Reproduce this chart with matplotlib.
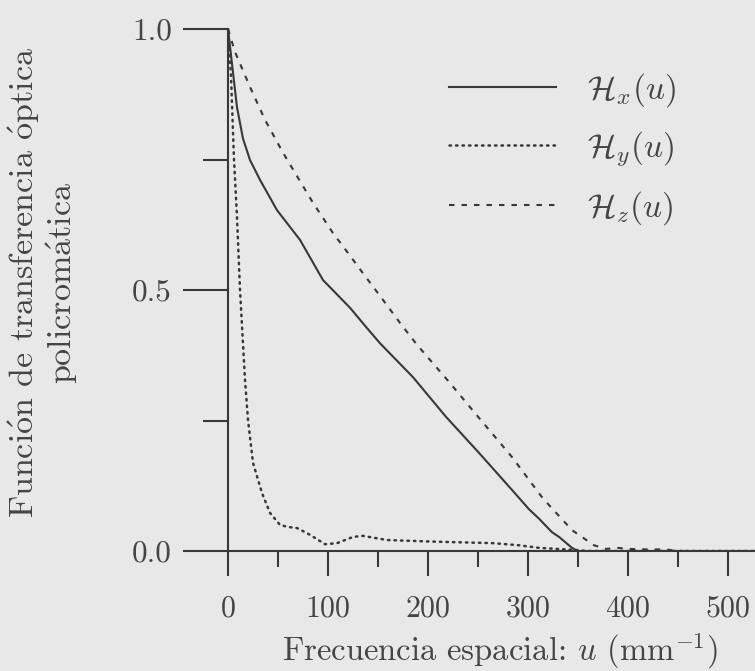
import matplotlib
matplotlib.use("Agg")
import matplotlib.pyplot as plt
from matplotlib.lines import Line2D

# Polychromatic optical transfer function along three directions
u_x = [0, 3, 9, 15, 22, 32, 49, 72, 95, 122, 139, 152, 185, 218, 251, 284,
       301, 311, 324, 331, 344, 350, 527]
h_x = [1.0, 0.95, 0.85, 0.79, 0.749, 0.711, 0.653, 0.596, 0.519, 0.466, 0.427,
       0.398, 0.333, 0.257, 0.188, 0.117, 0.08, 0.062, 0.036, 0.027, 0.006,
       0.0, 0.0]

u_y = [0, 3, 6, 9, 12, 17, 20, 25, 34, 42, 52, 60, 69, 82, 97, 109, 125, 135,
       159, 205, 265, 291, 311, 347, 360, 527]
h_y = [1.0, 0.91, 0.75, 0.64, 0.5, 0.328, 0.251, 0.169, 0.111, 0.073, 0.050,
       0.046, 0.044, 0.031, 0.013, 0.015, 0.027, 0.029, 0.021, 0.018, 0.015,
       0.011, 0.006, 0.002, 0.0, 0.0]

u_z = [0, 7, 22, 37, 55, 85, 105, 120, 135, 155, 172, 189, 221, 251, 284, 314,
       321, 344, 366, 378, 390, 400, 420, 438, 450, 527]
h_z = [1.0, 0.956, 0.889, 0.826, 0.763, 0.667, 0.609, 0.571, 0.532, 0.481,
       0.437, 0.395, 0.324, 0.255, 0.180, 0.103, 0.088, 0.040, 0.011, 0.004,
       0.006, 0.004, 0.003, 0.003, 0.0, 0.0]

x_major = [0, 100, 200, 300, 400, 500]
x_minor = [50, 150, 250, 350, 450]
y_major = [0.0, 0.5, 1.0]
y_minor = [0.25, 0.75]
y_major_labels = ["0.0", "0.5", "1.0"]

labels = [r"$\mathcal{H}_x(u)$", r"$\mathcal{H}_y(u)$", r"$\mathcal{H}_z(u)$"]

BG = "#e8e8e8"
INK = "#383838"
TXT = "#454545"
LW = 1.5

plt.rcParams["font.family"] = ["cmr10", "DejaVu Serif"]
plt.rcParams["mathtext.fontset"] = "cm"
plt.rcParams["axes.formatter.use_mathtext"] = True

fig = plt.figure(figsize=(7.55, 6.71), dpi=100, facecolor=BG)
ax = fig.add_axes([228 / 755, 120 / 671, 1 - 228 / 755, (551 - 29) / 671])
ax.set_facecolor(BG)

dotted = (0, (0.6, 2.0))
dashed = (0, (2.6, 3.4))

ax.plot(u_x, h_x, color=INK, lw=LW, ls="-", solid_capstyle="butt")
ax.plot(u_y, h_y, color=INK, lw=1.8, ls=dotted, dash_capstyle="round")
ax.plot(u_z, h_z, color=INK, lw=LW, ls=dashed)

ax.set_xlim(0, 527)
ax.set_ylim(0, 1.0)

for side in ("top", "right"):
    ax.spines[side].set_visible(False)
for side in ("left", "bottom"):
    ax.spines[side].set_color(INK)
    ax.spines[side].set_linewidth(LW)
ax.spines["left"].set_zorder(3)

ax.set_xticks(x_major)
ax.set_xticks(x_minor, minor=True)
ax.set_yticks(y_major)
ax.set_yticklabels(y_major_labels)
ax.set_yticks(y_minor, minor=True)

ax.tick_params(axis="x", which="major", direction="out", length=18, width=LW,
               color=INK, pad=14, labelsize=21.5, labelcolor=TXT)
ax.tick_params(axis="x", which="minor", direction="out", length=11.5,
               width=LW, color=INK)
ax.tick_params(axis="y", which="major", direction="out", length=32.5,
               width=LW, color=INK, pad=8, labelsize=22.5, labelcolor=TXT)
ax.tick_params(axis="y", which="minor", direction="out", length=18,
               width=LW, color=INK)

fig.text(500 / 755, 1 - 651 / 671,
         r"Frecuencia espacial: $u$ (mm$^{\mathrm{-1}}$)",
         ha="center", va="center", fontsize=23.5, color=TXT)

fig.text(24 / 755, 1 - 283 / 671,
         r"Funci$\mathrm{\acute{o}}$n de transferencia $\mathrm{\acute{o}}$ptica",
         rotation=90, ha="center", va="center", fontsize=24.5, color=TXT)
fig.text(62 / 755, 1 - 283 / 671,
         r"policrom$\mathrm{\acute{a}}$tica",
         rotation=90, ha="center", va="center", fontsize=24.5, color=TXT)

handles = [Line2D([], [], color=INK, lw=LW, ls="-"),
           Line2D([], [], color=INK, lw=1.8, ls=dotted, dash_capstyle="round"),
           Line2D([], [], color=INK, lw=LW, ls=dashed)]
leg = ax.legend(handles, labels, loc="upper left",
                bbox_to_anchor=(449 / 755, 1 - 71 / 671),
                bbox_transform=fig.transFigure, frameon=False, fontsize=24,
                handlelength=3.2, handletextpad=0.95, labelspacing=0.62,
                borderaxespad=0, borderpad=0)
for t in leg.get_texts():
    t.set_color(TXT)

fig.savefig("out.png", dpi=100, facecolor=BG)
